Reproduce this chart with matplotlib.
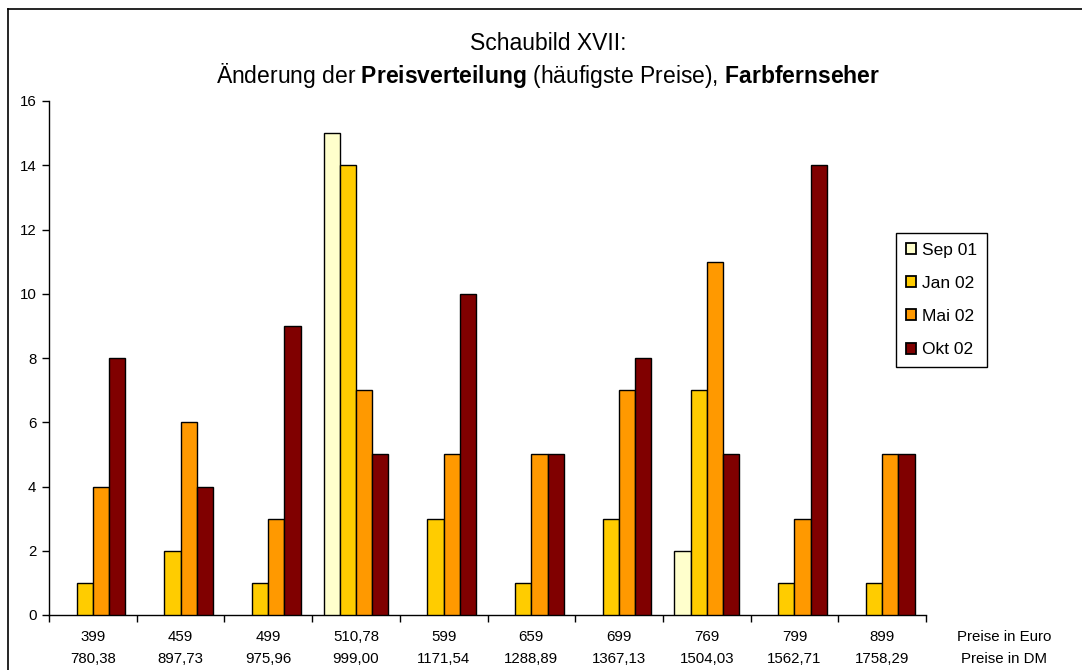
import numpy as np
import matplotlib
matplotlib.use("Agg")
import matplotlib.pyplot as plt
from matplotlib.lines import Line2D
from matplotlib.transforms import blended_transform_factory

plt.rcParams['font.family'] = ['Liberation Sans', 'DejaVu Sans']
plt.rcParams['mathtext.fontset'] = 'custom'
plt.rcParams['mathtext.rm'] = 'Liberation Sans'
plt.rcParams['mathtext.bf'] = 'Liberation Sans:bold'

# Preisklassen
preise_euro = ['399', '459', '499', '510,78', '599', '659', '699', '769', '799', '899']
preise_dm = ['780,38', '897,73', '975,96', '999,00', '1171,54', '1288,89',
             '1367,13', '1504,03', '1562,71', '1758,29']

# Anzahl der Nennungen je Erhebung
serien = ['Sep 01', 'Jan 02', 'Mai 02', 'Okt 02']
sep01 = [0, 0, 0, 15, 0, 0, 0, 2, 0, 0]
jan02 = [1, 2, 1, 14, 3, 1, 3, 7, 1, 1]
mai02 = [4, 6, 3, 7, 5, 5, 7, 11, 3, 5]
okt02 = [8, 4, 9, 5, 10, 5, 8, 5, 14, 5]
farben = ['#FFFFCC', '#FFCC00', '#FF9900', '#800000']

W, H = 1082, 670
fig = plt.figure(figsize=(W / 100, H / 100), dpi=100)
ax = fig.add_axes([49 / W, 1 - 615 / H, (926 - 49) / W, (615 - 101) / H])

n = len(preise_euro)
x = np.arange(n)
bw = 0.185
for k, (werte, farbe, name) in enumerate(zip([sep01, jan02, mai02, okt02], farben, serien)):
    pos = x + 0.5 + (k - 1.5) * bw
    bars = ax.bar(pos, werte, width=bw, color=farbe, edgecolor='black', linewidth=1.0,
                  label=name, zorder=3)
    # leere Klassen ohne Randlinie
    for b, v in zip(bars, werte):
        if v == 0:
            b.set_linewidth(0)

ax.set_xlim(0, n)
ax.set_ylim(0, 16)
ax.set_yticks(range(0, 17, 2))
ax.set_xticks(range(0, n + 1))
ax.set_xticklabels([])
ax.tick_params(axis='y', direction='out', length=5, width=1, labelsize=10.8, pad=4)
ax.tick_params(axis='x', direction='out', length=5, width=1)
for s in ['top', 'right']:
    ax.spines[s].set_visible(False)
for s in ['left', 'bottom']:
    ax.spines[s].set_linewidth(1)

# Zweizeilige Beschriftung der Kategorien
trans = blended_transform_factory(ax.transData, fig.transFigure)
for i in range(n):
    ax.text(i + 0.5, 1 - 637 / H, preise_euro[i], transform=trans,
            ha='center', va='center', fontsize=10.8)
    ax.text(i + 0.5, 1 - 659 / H, preise_dm[i], transform=trans,
            ha='center', va='center', fontsize=10.8)
fig.text(1004 / W, 1 - 637 / H, 'Preise in Euro', ha='center', va='center', fontsize=10.8)
fig.text(1004 / W, 1 - 659 / H, 'Preise in DM', ha='center', va='center', fontsize=10.8)

# Titel
fig.text(548 / W, 1 - 44 / H, 'Schaubild XVII:', ha='center', va='center', fontsize=16.5)
fig.text(548 / W, 1 - 75 / H,
         r'Änderung der $\mathbf{Preisverteilung}$ (häufigste Preise), $\mathbf{Farbfernseher}$',
         ha='center', va='center', fontsize=16.5)

leg = fig.legend(loc='upper left', bbox_to_anchor=(896 / W, 1 - 233 / H),
                 fontsize=12.5, handlelength=0.6, handleheight=0.6, handletextpad=0.35,
                 labelspacing=1.05, borderpad=0.55, fancybox=False, framealpha=1,
                 edgecolor='black', borderaxespad=0)
leg.get_frame().set_linewidth(1)
for h in leg.legend_handles:
    h.set_linewidth(1.3)

# Rahmen oben und links
fig.add_artist(Line2D([8 / W, 8 / W], [0, 1 - 9 / H], color='black', lw=1.2,
                      transform=fig.transFigure))
fig.add_artist(Line2D([8 / W, 1], [1 - 9 / H, 1 - 9 / H], color='black', lw=1.2,
                      transform=fig.transFigure))

fig.savefig('out.png', dpi=100)
